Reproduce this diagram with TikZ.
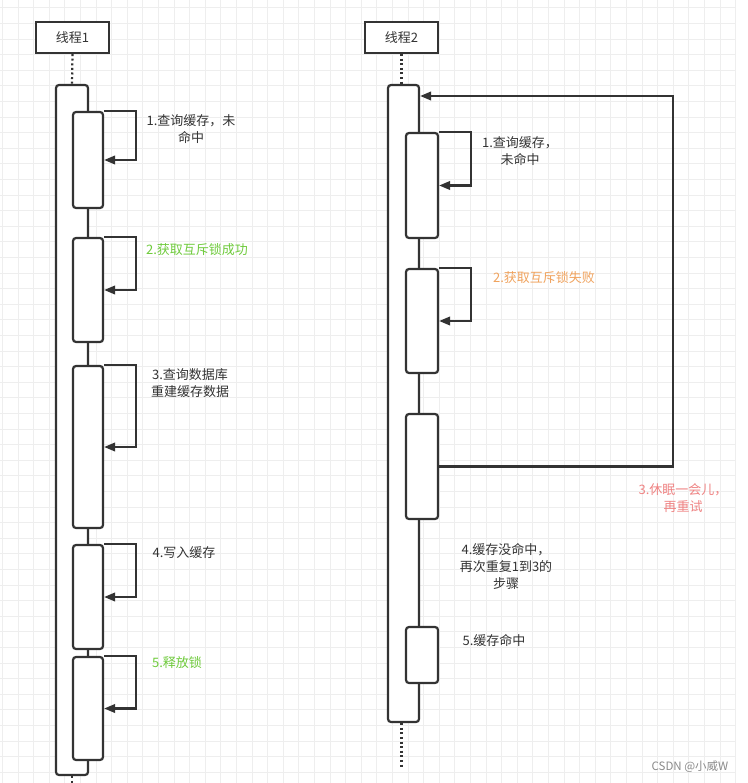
\documentclass[tikz,border=0pt]{standalone}
\usepackage{fontspec}
\setmainfont{Noto Sans CJK SC}
\usetikzlibrary{arrows.meta}
\definecolor{ink}{HTML}{333333}
\definecolor{gridc}{HTML}{EEEEEE}
\definecolor{okgreen}{HTML}{6FCB3C}
\definecolor{failorange}{HTML}{F0A35E}
\definecolor{retrypink}{HTML}{EF8383}
\definecolor{markgray}{HTML}{8A8A8A}
\begin{document}
\begin{tikzpicture}[x=1pt,y=-1pt,
  box/.style={draw=ink,line width=2.2pt,fill=white,rounded corners=3pt,inner sep=0pt,minimum width=#1},
  head/.style={draw=ink,line width=2.2pt,fill=white,inner sep=0pt,minimum width=73pt,minimum height=31pt,font=\fontsize{13}{16}\selectfont,text=ink},
  lbl/.style={align=center,font=\fontsize{13}{17}\selectfont,text=ink,inner sep=0pt},
  life/.style={draw=ink,line width=2.2pt,dash pattern=on 2pt off 2.6pt},
  arr/.style={draw=ink,line width=2.1pt,-{Triangle[length=11pt,width=8.5pt]}}
]
\useasboundingbox (0,0) rectangle (747,783);
\fill[white] (0,0) rectangle (747,783);
% grid
\foreach \i in {0,...,47} { \draw[gridc,line width=0.8pt] ({2.3+15.6*\i},0) -- ({2.3+15.6*\i},783); }
\foreach \j in {0,...,49} { \draw[gridc,line width=0.8pt] (0,{7.8+15.6*\j}) -- (735,{7.8+15.6*\j}); }
\fill[white] (736,0) rectangle (747,783);

% ---------- thread 1 ----------
\node[head] (t1) at (72.5,37.5) {线程1};
\node[box=32pt,minimum height=690pt] (a1) at (72,430) {};
\coordinate (e1) at (72,783);
\draw[life] (t1.south) -- (a1.north);
\draw[life] (a1.south) -- (e1);

\node[box=30pt,minimum height=96pt]  (b1) at (88,160) {};
\node[box=30pt,minimum height=104pt] (b2) at (88,290) {};
\node[box=30pt,minimum height=162pt] (b3) at (88,447) {};
\node[box=30pt,minimum height=104pt] (b4) at (88,597) {};
\node[box=30pt,minimum height=103pt] (b5) at (88,708.5) {};

\foreach \b in {b1,b2,b3,b4,b5} { \draw[arr] (\b.north east) -- ++(32,0) |- (\b.east); }

\node[lbl] (l1) at (191,129) {1.查询缓存，未\\命中};
\node[lbl,text=okgreen] (l2) at (197,250) {2.获取互斥锁成功};
\node[lbl] (l3) at (190,383) {3.查询数据库\\重建缓存数据};
\node[lbl] (l4) at (184,553) {4.写入缓存};
\node[lbl,text=okgreen] (l5) at (177,663) {5.释放锁};

% ---------- thread 2 ----------
\node[head] (t2) at (401.5,37.5) {线程2};
\node[box=31pt,minimum height=637pt] (a2) at (403.5,403.5) {};
\coordinate (e2) at (401.5,768);
\draw[life] (t2.south) -- (t2.south |- a2.north);
\draw[life] (t2.south |- a2.south) -- (e2);

\node[box=32pt,minimum height=105pt] (c1) at (422,185.5) {};
\node[box=32pt,minimum height=104pt] (c2) at (422,321) {};
\node[box=32pt,minimum height=105pt] (c3) at (422,466.5) {};
\node[box=32pt,minimum height=56pt]  (c4) at (422,655) {};

\foreach \c in {c1,c2} { \draw[arr] (\c.north east) -- ++(32,0) |- (\c.east); }
\coordinate (r) at (673,96);
\draw[arr] (c3.east) -| (r) -- (a2.east |- r);

\node[lbl] (m1) at (520,151) {1.查询缓存，\\未命中};
\node[lbl,text=failorange] (m2) at (544,278) {2.获取互斥锁失败};
\node[lbl,text=retrypink] (m3) at (683,498.5) {3.休眠一会儿，\\再重试};
\node[lbl] (m4) at (506,566) {4.缓存没命中，\\再次重复1到3的\\步骤};
\node[lbl] (m5) at (494,640) {5.缓存命中};

\node[font=\fontsize{11.5}{14}\selectfont,text=markgray,inner sep=0pt] (wm) at (690,767) {CSDN @小威W};
\end{tikzpicture}
\end{document}
